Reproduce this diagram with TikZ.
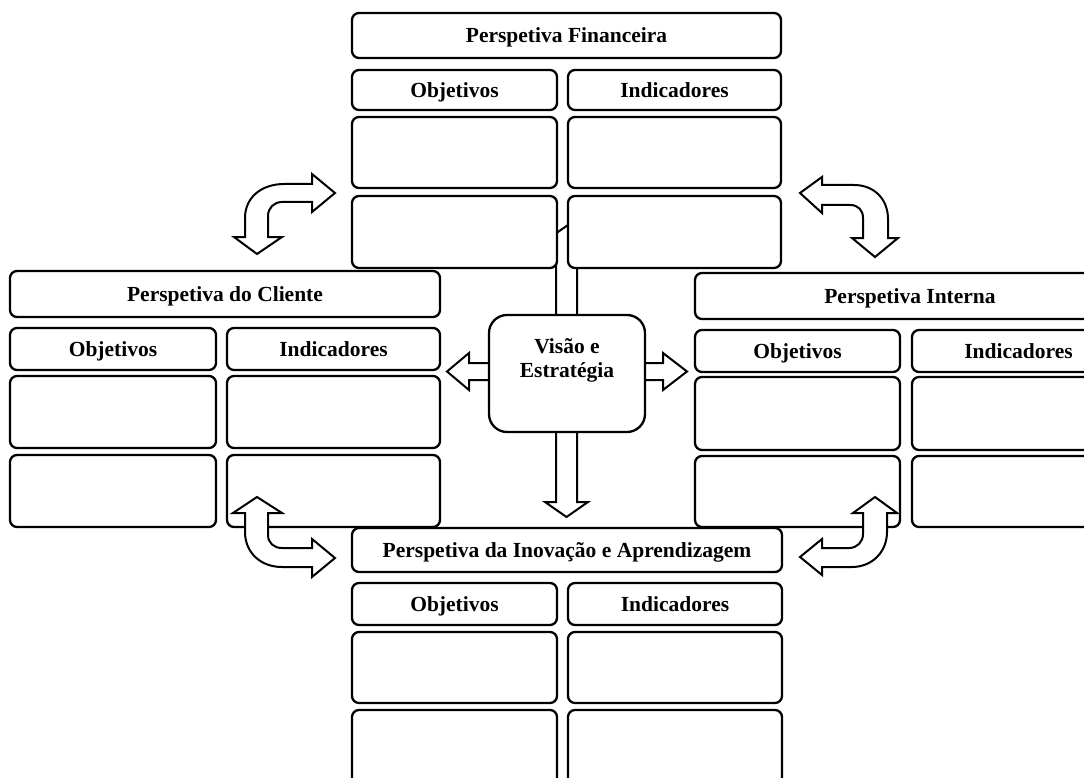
\documentclass[tikz,border=0pt]{standalone}
\usepackage{fontspec}
\setmainfont{Liberation Serif}
\begin{document}
\begin{tikzpicture}[x=1pt,y=-1pt,
  box/.style={draw=black, fill=white, line width=2.3pt, rounded corners=7pt,
    inner sep=0pt, text height=15pt, text depth=0.5pt,
    font=\fontsize{21.5}{24}\selectfont\bfseries},
  bigbox/.style={box, rounded corners=18pt},
  blockarrow/.style={draw=black, fill=white, line width=2pt, line join=miter}]
\newcommand\mybox[7][box]{%
  \pgfmathsetmacro\bcx{(#3+#5)/2}\pgfmathsetmacro\bcy{(#4+#6)/2}%
  \pgfmathsetmacro\bw{#5-#3}\pgfmathsetmacro\bh{#6-#4}%
  \node[#1, minimum width=\bw pt, minimum height=\bh pt] (#2) at (\bcx,\bcy) {#7};}
\useasboundingbox (0,0) rectangle (1084,778);
\clip (0,0) rectangle (1084,778);
\fill[white] (0,0) rectangle (1084,778);

% central four-way arrow (behind)
\draw[blockarrow] (566.5,226) -- (588,241) -- (577,241) -- (577,363) -- (663,363) -- (663,353)
  -- (687,371.5) -- (663,390) -- (663,380) -- (577,380) -- (577,502) -- (588,502)
  -- (566.5,517) -- (545,502) -- (556,502) -- (556,380) -- (469,380) -- (469,390)
  -- (447,371.5) -- (469,353) -- (469,363) -- (556,363) -- (556,241) -- (545,241) -- cycle;

% Perspetiva Financeira
\mybox{fT}{352}{13}{781}{58}{Perspetiva Financeira}
\mybox{fO}{352}{70}{557}{110}{Objetivos}
\mybox{fI}{568}{70}{781}{110}{Indicadores}
\mybox{fO1}{352}{117}{557}{188}{}
\mybox{fI1}{568}{117}{781}{188}{}
\mybox{fO2}{352}{196}{557}{268}{}
\mybox{fI2}{568}{196}{781}{268}{}

% Perspetiva do Cliente
\mybox{cT}{10}{271}{440}{317}{Perspetiva do Cliente}
\mybox{cO}{10}{328}{216}{370}{Objetivos}
\mybox{cI}{227}{328}{440}{370}{Indicadores}
\mybox{cO1}{10}{376}{216}{448}{}
\mybox{cI1}{227}{376}{440}{448}{}
\mybox{cO2}{10}{455}{216}{527}{}
\mybox{cI2}{227}{455}{440}{527}{}

% Perspetiva Interna
\mybox{iT}{695}{273}{1125}{319}{Perspetiva Interna}
\mybox{iO}{695}{330}{900}{372}{Objetivos}
\mybox{iI}{912}{330}{1125}{372}{Indicadores}
\mybox{iO1}{695}{377}{900}{450}{}
\mybox{iI1}{912}{377}{1125}{450}{}
\mybox{iO2}{695}{456}{900}{527}{}
\mybox{iI2}{912}{456}{1125}{527}{}

% Perspetiva da Inovacao e Aprendizagem
\mybox{bT}{352}{528}{782}{572}{Perspetiva da Inovação e Aprendizagem}
\mybox{bO}{352}{583}{557}{625}{Objetivos}
\mybox{bI}{568}{583}{782}{625}{Indicadores}
\mybox{bO1}{352}{632}{557}{703}{}
\mybox{bI1}{568}{632}{782}{703}{}
\mybox{bO2}{352}{710}{557}{790}{}
\mybox{bI2}{568}{710}{782}{790}{}

% Visao e Estrategia
\mybox[bigbox]{vis}{489}{315}{645}{432}{}
\node[font=\fontsize{21.5}{24}\selectfont\bfseries, align=center, anchor=north, inner sep=0pt]
  (vistext) at (567,338) {Visão e\\Estratégia};

% curved double arrows
\draw[blockarrow] (335,193) -- (312,212) -- (312,202) -- (282,202)
  .. controls (274,202) and (268,208) .. (268,216) -- (268,237) -- (282,237)
  -- (257,254) -- (234,237) -- (245,237) -- (245,218)
  .. controls (245,197) and (262,184) .. (284,184) -- (312,184) -- (312,174) -- cycle;
\draw[blockarrow] (800,193) -- (822,177) -- (822,185) -- (854,185)
  .. controls (874,185) and (888,199) .. (888,219) -- (888,238) -- (898,238)
  -- (875,257) -- (852,238) -- (863,238) -- (863,218)
  .. controls (863,210) and (858,205) .. (850,205) -- (822,205) -- (822,213) -- cycle;
\draw[blockarrow] (257,497) -- (282,513) -- (268,513) -- (268,535)
  .. controls (268,543) and (274,548) .. (282,548) -- (312,548) -- (312,539)
  -- (335,558) -- (312,577) -- (312,567) -- (282,567)
  .. controls (260,567) and (245,552) .. (245,532) -- (245,513) -- (233,513) -- cycle;
\draw[blockarrow] (875,497) -- (897,513) -- (887,513) -- (887,532)
  .. controls (887,552) and (872,567) .. (852,567) -- (822,567) -- (822,575)
  -- (800,557) -- (822,539) -- (822,548) -- (849,548)
  .. controls (857,548) and (863,542) .. (863,534) -- (863,513) -- (853,513) -- cycle;
\end{tikzpicture}
\end{document}
